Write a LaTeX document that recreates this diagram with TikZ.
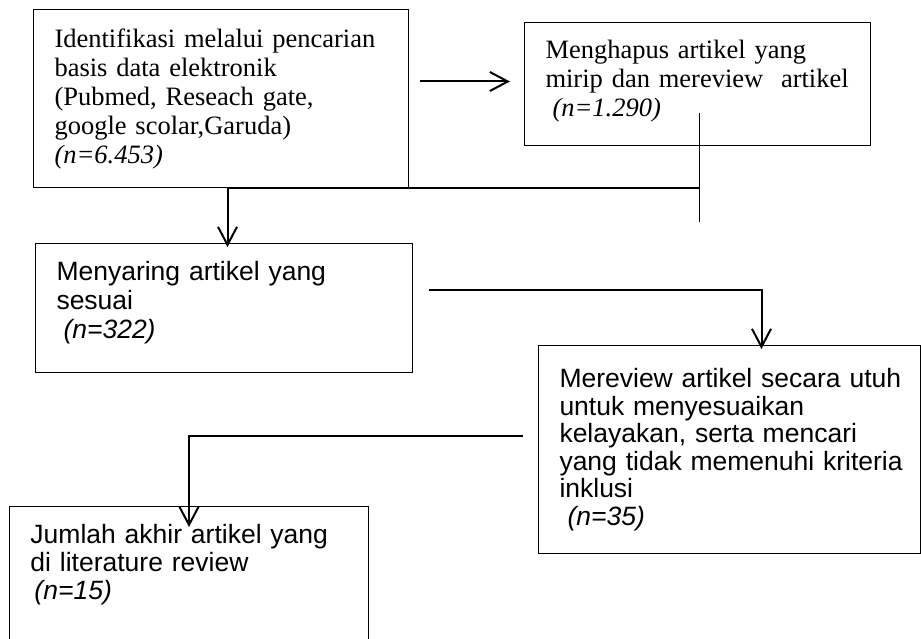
\documentclass[tikz,border=0pt]{standalone}
\usepackage{fontspec}
\setmainfont{Liberation Serif}
\setsansfont{Liberation Sans}
\usetikzlibrary{arrows.meta}

\begin{document}
\begin{tikzpicture}
        [x=1pt, y=-1pt,
        box/.style={draw, line width=1pt, anchor=north west, align=left, inner xsep=21pt, inner ysep=0pt},
        serif/.style={font=\fontsize{26.5pt}{29pt}\selectfont},
        sans/.style={font=\sffamily\fontsize{26.5pt}{#1}\selectfont},
        sans/.default=28pt,
        flow/.style={line width=2pt, -{Straight Barb[length=18pt, width=19pt]}},
        link/.style={line width=1.2pt}]

        \useasboundingbox (0,0) rectangle (921,639);
        \clip (0,0) rectangle (921,639);

        % boxes
        \node[box, serif, text width=333pt, text height=38pt, text depth=140pt] (ident) at (33,9) {Identifikasi melalui pencarian\\ basis data elektronik\\ (Pubmed, Reseach gate,\\ google scolar,Garuda)\\ \textit{(n=6.453)}};
        \node[box, serif, text width=304pt, text height=36pt, text depth=87pt] (hapus) at (524,22) {Menghapus artikel yang\\ \mbox{mirip dan mereview\ \ artikel}\\ \hspace*{7pt}\textit{(n=1.290)}};
        \node[box, sans=29pt, text width=335pt, text height=37pt, text depth=92pt] (saring) at (35,243) {Menyaring artikel yang\\ sesuai\\ \hspace*{7pt}\textit{(n=322)}};
        \node[box, sans=27.5pt, text width=340pt, text height=42pt, text depth=166pt] (review) at (538,345) {\mbox{Mereview artikel secara utuh}\\ untuk menyesuaikan\\ kelayakan, serta mencari\\ \mbox{yang tidak memenuhi kriteria}\\ inklusi\\ \hspace*{8pt}\textit{(n=35)}};
        \node[box, sans, text width=317pt, text height=37pt, text depth=115pt] (final) at (9,506) {Jumlah akhir artikel yang\\ di literature review\\ \hspace*{4pt}\textit{(n=15)}};

        % joining lines
        \draw[link] ([xshift=6.5pt]ident.south) -- ([xshift=2pt]ident.south -| hapus.south);
        \draw[link] ([xshift=2pt,yshift=33pt]hapus.south) -- ([xshift=2pt,yshift=-76pt]hapus.south);

        % arrows
        \draw[flow] ([xshift=11pt,yshift=17pt]ident.east) -- ([xshift=-14pt,yshift=2.5pt]hapus.west);
        \draw[flow] ([xshift=6.5pt]ident.south) -- ([xshift=3.5pt,yshift=-4pt]saring.north);
        \draw[flow] ([xshift=16pt,yshift=18.5pt]saring.east) -| ([xshift=32pt,yshift=-4pt]review.north);
        \draw[flow] ([xshift=-15pt,yshift=14pt]review.west) -| ([yshift=-21pt]final.north);

\end{tikzpicture}
\end{document}
